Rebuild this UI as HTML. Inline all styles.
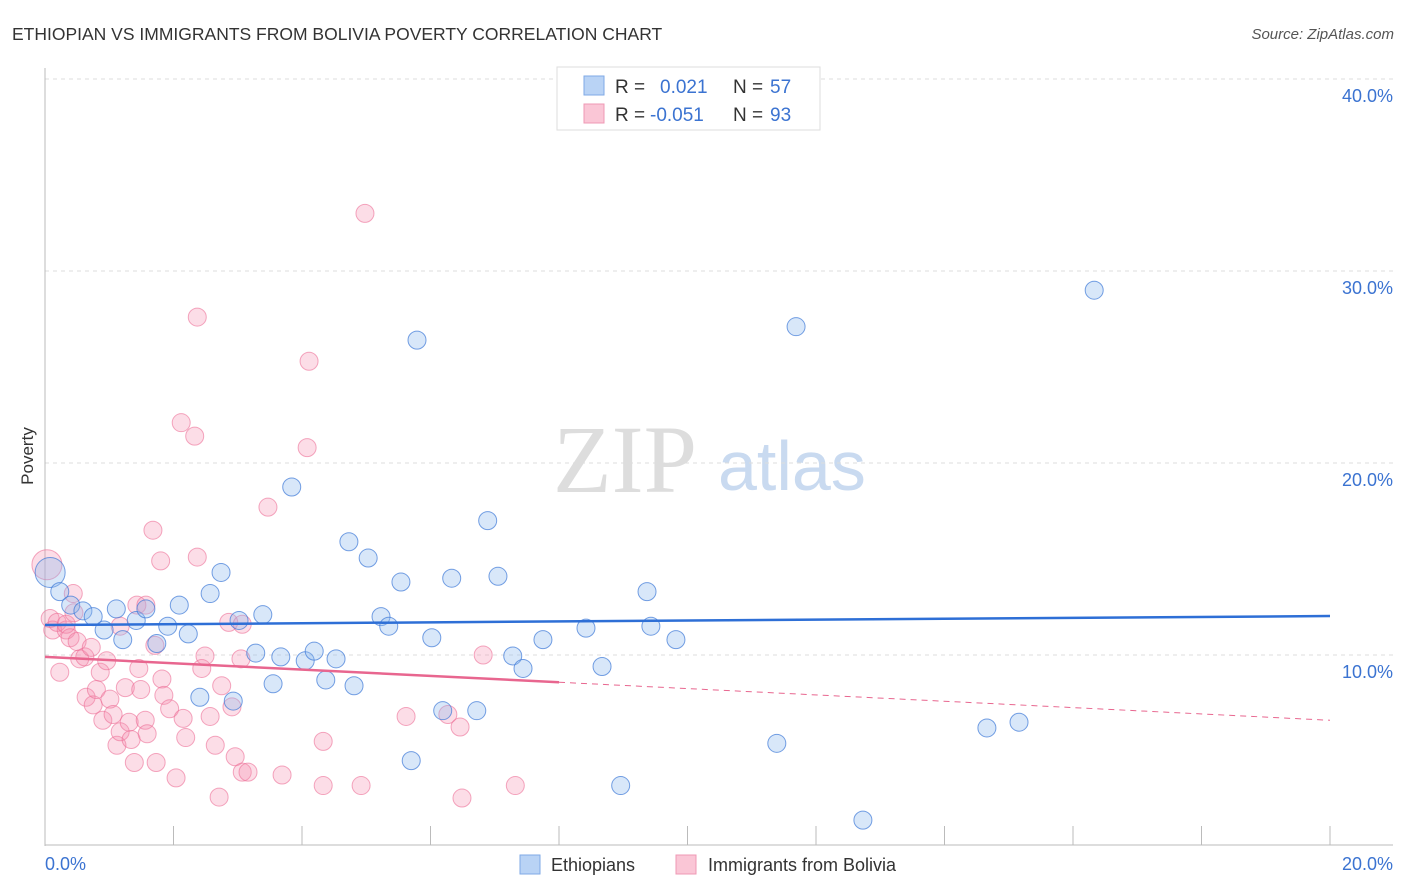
<!DOCTYPE html>
<html><head><meta charset="utf-8"><style>
body{margin:0;background:#fff;font-family:"Liberation Sans",sans-serif}
svg{display:block}
</style></head><body>
<svg width="1406" height="892" viewBox="0 0 1406 892">
<text x="12" y="40" font-size="17.5" fill="#333">ETHIOPIAN VS IMMIGRANTS FROM BOLIVIA POVERTY CORRELATION CHART</text>
<text x="1394" y="39" font-size="15" fill="#555" font-style="italic" text-anchor="end">Source: ZipAtlas.com</text>
<text transform="translate(33,456) rotate(-90)" font-size="17" fill="#333" text-anchor="middle">Poverty</text>
<g>
<text x="553" y="492" font-family="Liberation Serif,serif" font-size="96" fill="#ddd">ZIP</text>
<text x="718" y="490" font-size="70" fill="#c9daf0">atlas</text>
</g>
<g id="grid"></g>
<g id="axes"></g>
<g id="marks"></g>
<g id="trends"></g>
<g>
<rect x="557" y="67" width="263" height="63" fill="#fff" stroke="#ddd"/>
<rect x="584" y="76" width="20" height="19" fill="#b9d3f5" stroke="#7fa9e6"/>
<rect x="584" y="104" width="20" height="19" fill="#fac6d6" stroke="#ef98b4"/>
<text x="615" y="93" font-size="19" fill="#333">R =</text>
<text x="660" y="93" font-size="19" fill="#3b73d1">0.021</text>
<text x="733" y="93" font-size="19" fill="#333">N =</text>
<text x="770" y="93" font-size="19" fill="#3b73d1">57</text>
<text x="615" y="121" font-size="19" fill="#333">R =</text>
<text x="650" y="121" font-size="19" fill="#3b73d1">-0.051</text>
<text x="733" y="121" font-size="19" fill="#333">N =</text>
<text x="770" y="121" font-size="19" fill="#3b73d1">93</text>
</g>
<g>
<rect x="520" y="855" width="20" height="19" fill="#b9d3f5" stroke="#7fa9e6"/>
<text x="551" y="871" font-size="18" fill="#333">Ethiopians</text>
<rect x="676" y="855" width="20" height="19" fill="#fac6d6" stroke="#ef98b4"/>
<text x="708" y="871" font-size="18" fill="#333">Immigrants from Bolivia</text>
</g>
</svg>
<script>
const xTickLabels=["0.0%","20.0%"];
const yTicks=[10,20,30,40];
const yTickLabels=["10.0%","20.0%","30.0%","40.0%"];
const ethX=[0.08,0.23,0.40,0.59,0.75,0.92,1.11,1.21,1.42,1.57,1.74,1.91,2.09,2.23,2.41,2.57,2.74,2.93,3.02,3.28,3.39,3.55,3.67,3.84,4.05,4.19,4.37,4.53,4.73,4.81,5.03,5.23,5.35,5.54,5.70,5.79,6.02,6.19,6.33,6.72,6.89,7.05,7.28,7.44,7.75,8.42,8.67,8.96,9.37,9.43,9.82,11.39,11.69,12.73,14.66,15.16,16.33];
const ethY=[14.3,13.3,12.6,12.3,12.0,11.3,12.4,10.8,11.8,12.4,10.6,11.5,12.6,11.1,7.8,13.2,14.3,7.6,11.8,10.1,12.1,8.5,9.9,18.75,9.7,10.2,8.7,9.8,15.9,8.4,15.05,12.0,11.5,13.8,4.5,26.4,10.9,7.1,14.0,7.1,17.0,14.1,9.95,9.3,10.8,11.4,9.4,3.2,13.3,11.5,10.8,5.4,27.1,1.4,6.2,6.5,29.0];
const bolX=[0.03,0.08,0.12,0.19,0.23,0.33,0.33,0.39,0.44,0.45,0.50,0.54,0.62,0.64,0.72,0.75,0.80,0.86,0.90,0.96,1.01,1.06,1.12,1.17,1.25,1.31,1.34,1.39,1.43,1.46,1.49,1.56,1.59,1.68,1.73,1.80,1.82,1.85,1.94,2.04,2.12,2.15,2.19,2.33,2.37,2.37,2.44,2.49,2.57,2.65,2.71,2.75,2.86,2.91,2.96,3.05,3.07,3.16,3.47,3.69,4.08,4.11,4.33,4.33,4.92,4.98,5.62,6.27,6.46,6.49,6.82,7.32,1.71,1.17,1.57,3.07];
const bolY=[14.7,11.9,11.3,11.7,9.1,11.3,11.6,10.9,13.2,12.2,10.7,9.8,9.9,7.8,10.4,7.4,8.2,9.1,6.6,9.7,7.7,6.9,5.3,6.0,8.3,6.5,5.6,4.4,12.6,9.3,8.2,6.6,5.9,16.5,4.4,14.9,8.75,7.9,7.2,3.6,22.1,6.7,5.7,21.4,27.6,15.1,9.3,9.95,6.8,5.3,2.6,8.4,11.7,7.3,4.7,9.8,3.9,3.9,17.7,3.75,20.8,25.3,5.5,3.2,3.2,33.0,6.8,6.9,6.25,2.55,10.0,3.2,10.5,11.5,12.6,11.6];
const ethTrend=[11.56,12.03];
const bolTrend=[9.9,6.6];
const bolSolidEnd=8.0;
const NS="http://www.w3.org/2000/svg";
const X=v=>45+v*64.25, Y=v=>847-v*19.2;
function mk(t,a,p){const e=document.createElementNS(NS,t);for(const k in a)e.setAttribute(k,a[k]);document.getElementById(p).appendChild(e);return e;}
yTicks.forEach((t,i)=>{
 const g=mk('line',{x1:45,x2:1393,y1:Y(t),y2:Y(t),stroke:'#ddd','stroke-dasharray':'4 4'},'grid');
 
 
 const l=mk('text',{x:1393,y:Y(t)+23,'font-size':18,fill:'#3b73d1','text-anchor':'end'},'axes');
 l.textContent=yTickLabels[i];
 
 
});
const ax=mk('line',{x1:45,x2:45,y1:68,y2:846,stroke:'#bbb'},'axes');


const bx=mk('line',{x1:45,x2:1393,y1:845,y2:845,stroke:'#bbb'},'axes');


for(let i=0;i<=10;i++){const t=mk('line',{x1:X(i*2),x2:X(i*2),y1:826,y2:845,stroke:'#bbb'},'axes');
 
 }
const x0=mk('text',{x:45,y:870,'font-size':18,fill:'#3b73d1'},'axes');x0.textContent=xTickLabels[0];


const x1=mk('text',{x:1393,y:870,'font-size':18,fill:'#3b73d1','text-anchor':'end'},'axes');x1.textContent=xTickLabels[1];


bolX.forEach((x,i)=>{const c=mk('circle',{cx:X(x),cy:Y(bolY[i]),r:i==0?15:9,fill:'rgba(244,143,177,0.3)',stroke:'rgba(236,110,150,0.6)','stroke-width':1},'marks');
 
 });
ethX.forEach((x,i)=>{const c=mk('circle',{cx:X(x),cy:Y(ethY[i]),r:i==0?15:9,fill:'rgba(144,185,238,0.35)',stroke:'rgba(60,120,215,0.7)','stroke-width':1},'marks');
 
 });
const et=mk('line',{x1:X(0),x2:X(20),y1:Y(ethTrend[0]),y2:Y(ethTrend[1]),stroke:'#2e6fd6','stroke-width':2.5},'trends');


const xs=8.0, ys=bolTrend[0]+(bolTrend[1]-bolTrend[0])*xs/20;
const bt=mk('line',{x1:X(0),x2:X(xs),y1:Y(bolTrend[0]),y2:Y(ys),stroke:'#e8668f','stroke-width':2.5},'trends');


const bd=mk('line',{x1:X(xs),x2:X(20),y1:Y(ys),y2:Y(bolTrend[1]),stroke:'#e8668f','stroke-width':1,'stroke-dasharray':'6 5'},'trends');


</script>
</body></html>
